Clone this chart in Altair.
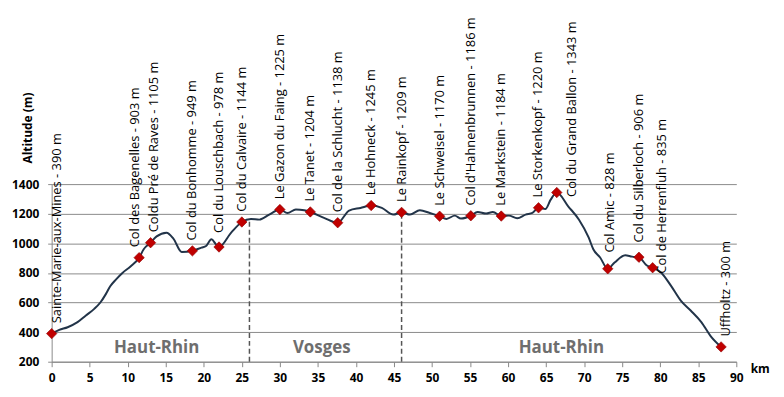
import altair as alt
import pandas as pd

# ---------------- data ----------------
profile_km = [0.0, 1.0, 2.1, 3.4, 4.5, 5.6, 6.4, 7.1, 7.7, 8.5, 9.3, 10.4, 11.5, 12.1,
              13.0, 13.8, 15.1, 16.0, 17.1, 18.5, 19.7, 20.3, 21.0, 21.6, 22.0, 23.6,
              25.0, 26.2, 27.3, 28.6, 30.0, 31.0, 32.1, 33.2, 34.0, 35.8, 37.6, 39.1,
              40.6, 42.0, 43.4, 44.9, 46.0, 47.1, 48.4, 49.7, 51.0, 51.9, 53.0, 53.8,
              55.1, 56.0, 57.1, 58.0, 59.1, 60.1, 61.2, 62.3, 63.2, 64.0, 64.9, 65.6,
              66.4, 67.9, 69.3, 70.6, 71.2, 72.1, 73.1, 74.0, 75.4, 76.3, 77.2, 78.2,
              79.0, 80.1, 81.4, 82.7, 84.0, 85.4, 86.7, 88.0]
profile_alt = [390, 415, 433, 467, 512, 557, 600, 655, 710, 758, 800, 845, 903, 960,
               1004, 1047, 1072, 1032, 941, 949, 971, 982, 1027, 993, 975, 1072,
               1144, 1165, 1160, 1194, 1228, 1205, 1228, 1223, 1212, 1172, 1139, 1221,
               1239, 1255, 1239, 1194, 1209, 1194, 1223, 1205, 1183, 1165, 1187, 1167,
               1186, 1212, 1201, 1212, 1184, 1187, 1169, 1194, 1205, 1240, 1232, 1295,
               1343, 1250, 1161, 1038, 960, 904, 828, 870, 919, 910, 906, 852,
               835, 803, 714, 613, 546, 468, 368, 300]

summit_names = ["Sainte-Marie-aux-Mines", "Col des Bagenelles", "Coldu Pré de Raves",
                "Col du Bonhomme", "Col du Louschbach", "Col du Calvaire",
                "Le Gazon du Faing", "Le Tanet", "Col de la Schlucht", "Le Hohneck",
                "Le Rainkopf", "Le  Schweisel", "Col d'Hahnenbrunnen", "Le Markstein",
                "Le Storkenkopf", "Col du Grand Ballon", "Col Amic", "Col du Silberloch",
                "Col de Herrenfluh", "Uffholtz"]
summit_elev = [390, 903, 1105, 949, 978, 1144, 1225, 1204, 1138, 1245, 1209, 1170,
               1186, 1184, 1220, 1343, 828, 906, 835, 300]
summit_km = [0.0, 11.5, 13.0, 18.5, 22.0, 25.0, 30.0, 34.0, 37.6, 42.0, 46.0, 51.0,
             55.1, 59.1, 64.0, 66.4, 73.1, 77.2, 79.0, 88.0]

border_km = [26.0, 46.0]
border_top = [1163, 1195]

region_names = ["Haut-Rhin", "Vosges", "Haut-Rhin"]
region_km = [13.8, 35.5, 67.0]
region_alt = [290, 290, 290]

x_ticks = list(range(0, 91, 5))
y_ticks = [200, 400, 600, 800, 1000, 1200, 1400]

# ---------------- label layout ----------------
label_lift_m = 70
label_nudge_km = {"Sainte-Marie-aux-Mines": 0.7, "Col des Bagenelles": -0.6,
                  "Coldu Pré de Raves": 0.5, "Col du Grand Ballon": 2.0,
                  "Col de Herrenfluh": 1.2, "Uffholtz": 0.7, "Col Amic": 0.3}
label_lift_override = {"Col du Grand Ballon": -30, "Col de Herrenfluh": -40,
                       "Col Amic": 110, "Col du Silberloch": 100, "Col du Louschbach": 95}

alt_at = dict(zip(profile_km, profile_alt))

profile = pd.DataFrame({"km": profile_km, "alt": profile_alt})
summits = pd.DataFrame({
    "name": summit_names,
    "km": summit_km,
    "alt": [alt_at[k] for k in summit_km],
    "label": [f"{n} - {e} m" for n, e in zip(summit_names, summit_elev)],
})
summits["lkm"] = [k + label_nudge_km.get(n, 0.0) for n, k in zip(summit_names, summit_km)]
summits["lalt"] = [a + label_lift_override.get(n, label_lift_m)
                   for n, a in zip(summits["name"], summits["alt"])]
borders = pd.DataFrame({"km": border_km, "bottom": [200] * len(border_km), "top": border_top})
regions = pd.DataFrame({"name": region_names, "km": region_km, "alt": region_alt})

FONT = "Open Sans"

xscale = alt.Scale(domain=[0, 90], nice=False, zero=False)
yscale = alt.Scale(domain=[200, 1400], nice=False, zero=False)

x_axis = alt.Axis(values=x_ticks, grid=False, title="km", labelFont=FONT,
                  labelFontWeight="bold", labelFontSize=12, labelColor="black",
                  labelOverlap=False, labelFlush=False, format="d",
                  tickSize=5, tickColor="#888888", domainColor="#888888",
                  labelPadding=6, titleFont=FONT, titleFontWeight="bold",
                  titleFontSize=12, titleColor="black", titleX=704, titleY=7,
                  titleAlign="left", titleBaseline="middle", titleAnchor="start")
y_axis = alt.Axis(values=y_ticks, grid=True, gridColor="#8a8a8a", gridWidth=1,
                  title="Altitude (m)", labelFont=FONT, labelFontWeight="bold",
                  labelFontSize=12, labelColor="black", labelOverlap=False,
                  labelFlush=False, format="d", tickSize=4,
                  tickColor="#8a8a8a", domainColor="#8a8a8a", labelPadding=9,
                  titleFont=FONT, titleFontWeight="bold", titleFontSize=12,
                  titleColor="black", titleAngle=270, titleX=-24, titleY=-57,
                  titleAlign="center", titleBaseline="middle")


def X(field):
    return alt.X(field, scale=xscale, axis=x_axis)


def Y(field):
    return alt.Y(field, scale=yscale, axis=y_axis)


base_line = alt.Chart(profile).mark_line(
    interpolate="monotone", color="#223449", strokeWidth=2
).encode(x=X("km:Q"), y=Y("alt:Q"))

rules = alt.Chart(borders).mark_rule(
    color="#555555", strokeDash=[5, 3], strokeWidth=1.5
).encode(x=X("km:Q"), y=Y("bottom:Q"), y2="top:Q")

region_text = alt.Chart(regions).mark_text(
    font=FONT, fontSize=17, fontWeight="bold", color="#6e6e6e",
    align="center", baseline="middle"
).encode(x=X("km:Q"), y=Y("alt:Q"), text="name:N")

points = alt.Chart(summits).mark_point(
    shape="diamond", filled=True, size=110, color="#c00000",
    stroke="#8e0000", strokeWidth=0.6, opacity=1
).encode(x=X("km:Q"), y=Y("alt:Q"))

labels = alt.Chart(summits).mark_text(
    font=FONT, fontSize=13, color="black", angle=270,
    align="left", baseline="middle"
).encode(x=X("lkm:Q"), y=Y("lalt:Q"), text="label:N")

chart = alt.layer(base_line, rules, region_text, points, labels).properties(
    width=690, height=179,
    autosize=alt.AutoSizeParams(type="none"),
    padding={"left": 44, "top": 176, "right": 40, "bottom": 24},
    background="white",
).configure_view(stroke=None)

chart.save("out.html", embed_options={"renderer": "svg", "actions": False})
